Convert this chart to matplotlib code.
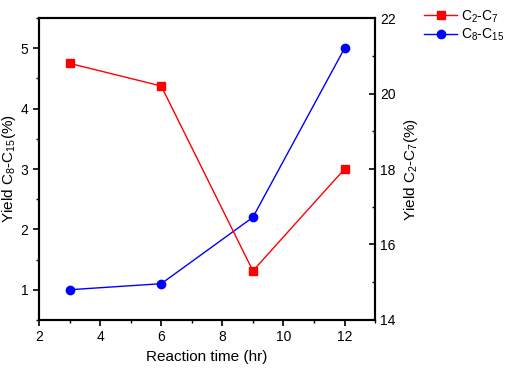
import matplotlib
matplotlib.use("Agg")
import matplotlib.pyplot as plt
from matplotlib.ticker import MultipleLocator
from matplotlib.lines import Line2D

plt.rcParams['font.family'] = ['Liberation Sans', 'DejaVu Sans']
plt.rcParams['mathtext.fontset'] = 'custom'
plt.rcParams['mathtext.rm'] = 'Liberation Sans'
plt.rcParams['mathtext.it'] = 'Liberation Sans'

# data
time_hr = [3, 6, 9, 12]
yield_c2_c7 = [20.8, 20.2, 15.3, 18.0]   # right axis
yield_c8_c15 = [1.0, 1.1, 2.2, 5.0]      # left axis

fig = plt.figure(figsize=(5.1, 3.69), dpi=100)
ax = fig.add_axes([0.0765, 0.133, 0.659, 0.818])
ax2 = ax.twinx()

ax.plot(time_hr, yield_c8_c15, '-o', color='blue', lw=1.0, ms=6)
ax2.plot(time_hr, yield_c2_c7, '-s', color='red', lw=1.0, ms=5.5)

ax.set_xlim(2, 13)
ax.set_ylim(0.5, 5.5)
ax2.set_ylim(14, 22)

ax.xaxis.set_major_locator(MultipleLocator(2))
ax.xaxis.set_minor_locator(MultipleLocator(1))
ax.yaxis.set_major_locator(MultipleLocator(1))
ax.yaxis.set_minor_locator(MultipleLocator(0.5))
ax2.yaxis.set_major_locator(MultipleLocator(2))
ax2.yaxis.set_minor_locator(MultipleLocator(1))

ax.tick_params(axis='both', which='major', direction='out', length=4, width=1.2, labelsize=10)
ax.tick_params(axis='both', which='minor', direction='out', length=2.5, width=1.0)
ax2.tick_params(axis='y', which='major', direction='in', length=4, width=1.2, labelsize=10)
ax2.tick_params(axis='y', which='minor', direction='in', length=2.5, width=1.0)

for a in (ax, ax2):
    for s in a.spines.values():
        s.set_linewidth(1.5)

ax.set_xlabel('Reaction time (hr)', fontsize=11)
ax.set_ylabel('Yield C$_8$-C$_{15}$(%)', fontsize=11)
ax2.set_ylabel('Yield C$_2$-C$_7$(%)', fontsize=11)
ax.yaxis.set_label_coords(-0.063, 0.5)
ax2.yaxis.set_label_coords(1.08, 0.5)

handles = [
    Line2D([], [], color='red', marker='s', lw=1.0, ms=5.5),
    Line2D([], [], color='blue', marker='o', lw=1.0, ms=6),
]
fig.legend(handles, ['C$_2$-C$_7$', 'C$_8$-C$_{15}$'],
           loc='upper left', bbox_to_anchor=(0.815, 1.0),
           frameon=False, fontsize=10, handlelength=2.4,
           handletextpad=0.3, labelspacing=0.15, borderaxespad=0.2)

fig.savefig('out.png', dpi=100)
